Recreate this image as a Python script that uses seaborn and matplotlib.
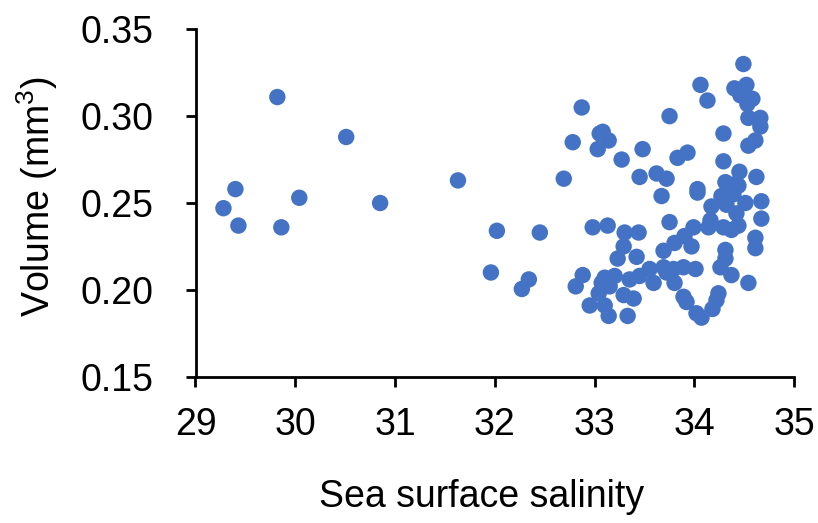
import matplotlib
matplotlib.use("Agg")
import matplotlib.pyplot as plt
import seaborn as sns
import pandas as pd

# Sea surface salinity of each sample
salinity = [
    29.82, 30.51, 29.40, 29.28, 29.43, 29.86, 30.04, 30.85, 31.63, 32.02,
    31.96, 32.27, 32.34, 32.45, 32.69, 32.87, 33.08, 33.05, 32.78, 33.14,
    33.03, 33.48, 33.27, 33.45, 33.62, 33.72, 33.75, 34.49, 34.06, 34.40,
    34.52, 34.46, 34.58, 34.53, 34.13, 34.66, 34.54, 34.66, 34.29, 34.61,
    34.54, 33.93, 33.83, 34.29, 34.45, 34.62, 34.31, 34.41, 34.03, 32.98,
    33.13, 33.30, 33.44, 33.67, 33.75, 32.88, 32.81, 33.29, 33.23, 33.42,
    33.69, 33.55, 33.10, 33.20, 33.35, 33.45, 33.59, 33.72, 33.04, 33.15,
    33.29, 33.39, 32.95, 33.10, 33.14, 33.33, 33.07, 34.03, 34.44, 34.27,
    34.39, 34.51, 34.67, 34.17, 34.32, 34.42, 34.67, 33.99, 34.14, 34.29,
    34.37, 34.16, 34.44, 34.61, 34.61, 33.90, 33.80, 33.97, 34.31, 34.31,
    34.26, 34.37, 33.69, 33.89, 34.01, 33.79, 33.80, 34.54, 33.89, 33.92,
    34.24, 34.22, 34.18, 34.02, 34.07,
]

# Volume of each sample (mm^3)
volume = [
    0.311, 0.288, 0.258, 0.247, 0.237, 0.236, 0.253, 0.250, 0.263, 0.234,
    0.210, 0.2005, 0.206, 0.233, 0.264, 0.305, 0.291, 0.290, 0.285, 0.286,
    0.281, 0.281, 0.275, 0.265, 0.267, 0.264, 0.300, 0.330, 0.318, 0.316,
    0.318, 0.312, 0.310, 0.307, 0.309, 0.299, 0.299, 0.294, 0.290, 0.286,
    0.283, 0.279, 0.276, 0.274, 0.268, 0.265, 0.262, 0.261, 0.258, 0.236,
    0.237, 0.233, 0.233, 0.254, 0.239, 0.2085, 0.202, 0.225, 0.218, 0.219,
    0.2225, 0.212, 0.207, 0.208, 0.206, 0.208, 0.204, 0.210, 0.198, 0.202,
    0.197, 0.195, 0.191, 0.191, 0.185, 0.185, 0.204, 0.256, 0.260, 0.254,
    0.255, 0.250, 0.251, 0.248, 0.249, 0.244, 0.241, 0.236, 0.236, 0.236,
    0.2345, 0.240, 0.237, 0.230, 0.224, 0.231, 0.227, 0.225, 0.223, 0.218,
    0.213, 0.2085, 0.213, 0.213, 0.212, 0.212, 0.204, 0.204, 0.196, 0.193,
    0.198, 0.194, 0.189, 0.1865, 0.184,
]

x_ticks = [29, 30, 31, 32, 33, 34, 35]
y_ticks = [0.15, 0.20, 0.25, 0.30, 0.35]

sns.set_style("ticks")
plt.rcParams["font.family"] = ["Liberation Sans", "DejaVu Sans"]
plt.rcParams["mathtext.fontset"] = "custom"
plt.rcParams["mathtext.rm"] = "Liberation Sans"

df = pd.DataFrame({"salinity": salinity, "volume": volume})

fig = plt.figure(figsize=(8.18, 5.23), dpi=100)
ax = fig.add_axes([195.5 / 818, 1 - 376.7 / 523,
                   (794.3 - 195.5) / 818, (376.7 - 29.3) / 523])

sns.scatterplot(data=df, x="salinity", y="volume", ax=ax, color="#4472C4",
                s=140, linewidth=0, edgecolor="none", clip_on=False, zorder=3)

ax.set_xlim(29, 35)
ax.set_ylim(0.15, 0.35)
ax.set_xticks(x_ticks)
ax.set_xticklabels([str(t) for t in x_ticks])
ax.set_yticks(y_ticks)
ax.set_yticklabels([f"{t:.2f}" for t in y_ticks])

for side in ("top", "right"):
    ax.spines[side].set_visible(False)
for side in ("left", "bottom"):
    ax.spines[side].set_linewidth(2)
    ax.spines[side].set_color("black")

ax.tick_params(axis="both", direction="out", length=7.5, width=2, color="black",
               labelsize=27, labelcolor="black")
ax.tick_params(axis="x", pad=14)
ax.tick_params(axis="y", pad=23)

ax.set_xlabel("Sea surface salinity", fontsize=27, color="black")
ax.xaxis.label.set_va("center")
ax.xaxis.set_label_coords(0.478, -0.346)

ax.set_ylabel("Volume (mm$^\\mathrm{3}$)", fontsize=27, color="black")
ax.yaxis.label.set_va("center")
ax.yaxis.set_label_coords(-0.264, 0.517)

fig.savefig("out.png", dpi=100)
